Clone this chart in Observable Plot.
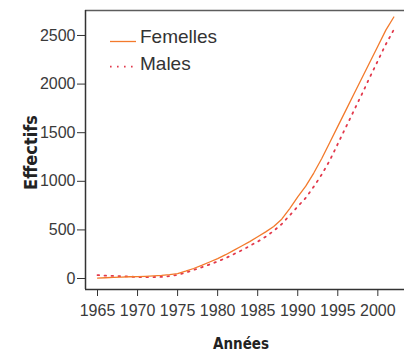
<!DOCTYPE html>
<html><head><meta charset="utf-8">
<script src="https://cdn.jsdelivr.net/npm/d3@7"></script>
<script src="https://cdn.jsdelivr.net/npm/@observablehq/plot@0.6"></script>
<style>
body{margin:0;background:#fff;}
#chart{position:relative;width:404px;height:351px;font-family:"Liberation Sans",Arial,sans-serif;}
#legend{position:absolute;left:0;top:0;width:404px;height:351px;pointer-events:none;}
#legend .item{position:absolute;left:108px;height:22px;display:flex;align-items:center;font-size:19px;color:#333;}
#legend svg{display:block;margin-right:4px;}
</style></head><body><div id="chart"><div id="legend"></div></div>
<script>
const years = [1965,1966,1967,1968,1969,1970,1971,1972,1973,1974,1975,1976,1977,1978,1979,1980,1981,1982,1983,1984,1985,1986,1987,1988,1989,1990,1991,1992,1993,1994,1995,1996,1997,1998,1999,2000,2001,2002];
const femelles = [5,8,12,15,18,20,23,27,32,40,50,75,103,135,170,205,245,290,335,380,430,480,535,610,720,840,950,1085,1235,1400,1565,1730,1895,2060,2225,2390,2555,2690];
const males = [35,30,27,24,20,15,14,15,17,25,38,60,88,115,145,175,210,250,290,335,380,430,490,560,650,740,830,945,1070,1215,1385,1555,1725,1895,2070,2240,2410,2560];
const seriesNames = ["Femelles","Males"];
const seriesColors = ["#f37a2c","#e2394c"];
const xTicks = [1965,1970,1975,1980,1985,1990,1995,2000];
const yTicks = [0,500,1000,1500,2000,2500];
const xDomain = [1963.5, 2003.33];
const yDomain = [-113, 2757];
const xTitle = "Années";
const yTitle = "Effectifs";

const fem = years.map((yr,i)=>({year:yr, value:femelles[i]}));
const mal = years.map((yr,i)=>({year:yr, value:males[i]}));

const boldFont = '"Liberation Sans Narrow","DejaVu Sans Condensed","Liberation Sans",Arial,sans-serif';
const tickFont = '"Liberation Sans",Arial,sans-serif';

const plot = Plot.plot({
  width: 404, height: 351,
  marginLeft: 85, marginRight: 0, marginTop: 10, marginBottom: 62,
  style: {fontSize: "16px", fontFamily: tickFont, color: "#333", background: "#fff"},
  x: {domain: xDomain},
  y: {domain: yDomain},
  marks: [
    Plot.ruleY([yDomain[1]], {stroke: "#5c5c5c", strokeWidth: 1.5}),
    Plot.ruleY([yDomain[0]], {stroke: "#333", strokeWidth: 1.5}),
    Plot.ruleX([xDomain[0]], {stroke: "#333", strokeWidth: 1.5}),
    Plot.axisX({ticks: xTicks, tickFormat: d => String(d), tickSize: 7, tickPadding: 8, label: null, stroke: "#333", fill: "#3a3a3a"}),
    Plot.axisY({ticks: yTicks, tickFormat: d => String(d), tickSize: 8, tickPadding: 2, label: null, stroke: "#333", fill: "#3a3a3a"}),
    Plot.line(mal, {x: "year", y: "value", stroke: seriesColors[1], strokeWidth: 1.8, strokeDasharray: "1.6,5.4"}),
    Plot.line(fem, {x: "year", y: "value", stroke: seriesColors[0], strokeWidth: 1.3}),
    Plot.text([xTitle], {frameAnchor: "bottom", lineAnchor: "bottom", textAnchor: "middle", dy: 59, dx: -4, text: d => d, fontWeight: "bold", fontFamily: boldFont, fontSize: 15, fill: "#222"}),
    Plot.text([yTitle], {frameAnchor: "left", lineAnchor: "bottom", textAnchor: "middle", rotate: -90, dx: -49, dy: 2.5, text: d => d, fontWeight: "bold", fontFamily: boldFont, fontSize: 18, fill: "#222"})
  ]
});
document.getElementById("chart").prepend(plot);

const legend = document.getElementById("legend");
const legendTops = [26, 53];
const sampleY = [15.5, 13.7];
seriesNames.forEach((name, i) => {
  const item = document.createElement("div");
  item.className = "item";
  item.style.top = legendTops[i] + "px";
  const dash = i === 1 ? 'stroke-dasharray="1.6,5.4" stroke-width="1.8"' : 'stroke-width="1.3"';
  item.innerHTML = `<svg width="28" height="22"><line x1="2" x2="28" y1="${sampleY[i]}" y2="${sampleY[i]}" stroke="${seriesColors[i]}" ${dash}/></svg><span>${name}</span>`;
  legend.appendChild(item);
});
</script>
</body></html>
